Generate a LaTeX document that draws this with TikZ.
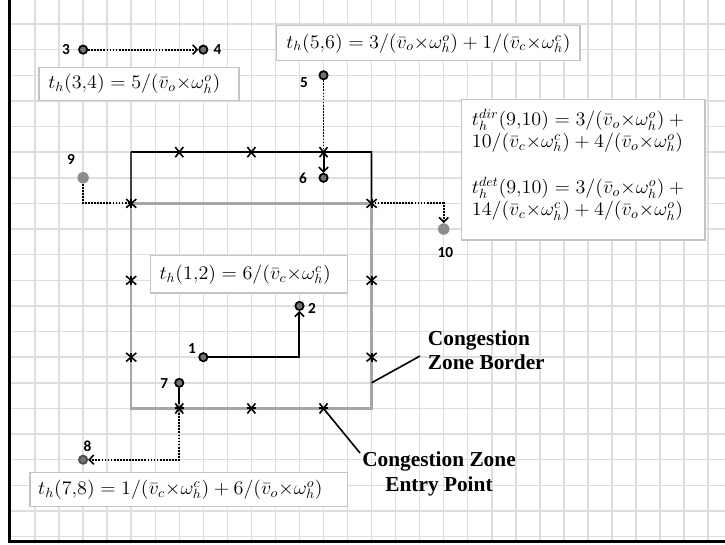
\documentclass[tikz,border=0pt]{standalone}
\usepackage{fontspec}
\usetikzlibrary{arrows.meta}
\newfontfamily\lblfont{Carlito}
\newfontfamily\serifb{Liberation Serif}
\definecolor{gridc}{HTML}{DEDEDE}
\definecolor{zonec}{HTML}{A6A6A6}
\definecolor{boxc}{HTML}{C4C4C4}
\definecolor{ndc}{HTML}{727272}
\definecolor{ndl}{HTML}{8C8C8C}
\newcommand{\fm}[1]{\scalebox{1.05}[1]{$#1$}}
\begin{document}
\begin{tikzpicture}[x={(0.75pt,0pt)},y={(0pt,-0.75pt)},
  gridl/.style={draw=gridc, line width=1.1pt},
  zoneb/.style={draw=zonec, line width=1.7pt},
  detour/.style={draw=black, line width=1.3pt},
  dotl/.style={draw=black, line width=1.4pt, dash pattern=on 1.3pt off 1.0pt},
  solidl/.style={draw=black, line width=1.5pt},
  arr/.style={-{Straight Barb[length=3.4pt,width=7pt,line width=1.2pt]}},
  nd/.style={circle, fill=ndc, draw=black, line width=1.3pt, inner sep=0pt, minimum size=6.2pt},
  ndlight/.style={circle, fill=ndl, inner sep=0pt, minimum size=8.6pt},
  lbl/.style={font=\lblfont\bfseries\fontsize{11.5}{13}\selectfont, inner sep=0pt},
  fbox/.style={draw=boxc, line width=1.1pt, fill=white, inner sep=0pt, anchor=north west},
  ftext/.style={font=\fontsize{14}{17}\selectfont, inner sep=0pt, anchor=west},
  entm/.style={draw=black, line width=1.2pt},
  leader/.style={draw=black, line width=1.2pt},
  cz/.style={font=\serifb\bfseries\fontsize{16}{18.5}\selectfont, inner sep=0pt}]
\useasboundingbox (0,0) rectangle (725,545);
\fill[white] (0,0) rectangle (725,545);
% grid
\foreach \i in {1,...,29} \draw[gridl] ({11+24.04*\i},0) -- ({11+24.04*\i},540);
\foreach \j in {0,...,20} \draw[gridl] (11,{24+25.63*\j}) -- (725,{24+25.63*\j});
% frame
\draw[line width=2.4pt] (9.5,0) -- (9.5,541.5) -- (725,541.5);

\begin{scope}[shift={(11,24)},x={(18.03pt,0pt)},y={(0pt,-19.2225pt)}]
  % entry points
  \coordinate (eT1) at (7,5);  \coordinate (eT2) at (10,5);  \coordinate (eT3) at (13,5);
  \coordinate (eB1) at (7,15); \coordinate (eB2) at (10,15); \coordinate (eB3) at (13,15);
  \coordinate (eL1) at (5,7);  \coordinate (eL2) at (5,10);  \coordinate (eL3) at (5,13);
  \coordinate (eR1) at (15,7); \coordinate (eR2) at (15,10); \coordinate (eR3) at (15,13);
  \coordinate (zb) at (15,14);
  % zone
  \draw[zoneb] (5,5) rectangle (15,15);
  \draw[zoneb] (eL1) -- (eR1);
  \draw[detour, draw=black!75] (eL1) -- (5,5);
  \draw[detour] (5,5) -- (15,5) -- (eR1);
  % nodes
  \node[nd] (n3) at (3,1) {};
  \node[nd] (n4) at (8,1) {};
  \node[nd] (n5) at (13,2) {};
  \node[nd] (n6) at (13,6) {};
  \node[ndlight] (n9) at (3,6) {};
  \node[ndlight] (n10) at (18,8) {};
  \node[nd] (n1) at (8,13) {};
  \node[nd] (n2) at (12,11) {};
  \node[nd] (n7) at (7,14) {};
  \node[nd, draw=black!70] (n8) at (3,17) {};
  \node[ndlight, minimum size=6.5pt] (e7) at (eB1) {};
\end{scope}

% entry markers
\foreach \c in {eT1,eT2,eT3,eB1,eB2,eB3}{
  \draw[entm] (\c) ++(-3pt,3.8pt) -- ++(6pt,-7.6pt) ++(-6pt,0pt) -- ++(6pt,7.6pt);
  \draw[entm, line width=1.5pt] (\c) ++(-3.4pt,0pt) -- ++(6.8pt,0pt);
}
\foreach \c in {eL1,eL2,eL3,eR1,eR2,eR3}{
  \draw[entm] (\c) ++(-3.8pt,3.2pt) -- ++(7.6pt,-6.4pt) ++(-7.6pt,0pt) -- ++(7.6pt,6.4pt);
  \draw[entm, line width=1.5pt] (\c) ++(0pt,-3.4pt) -- ++(0pt,6.8pt);
}

% connectors
\draw[dotl, arr] (n3) -- (n4);
\draw[dotl] (n5) -- (eT3);
\draw[solidl, arr] (eT3) -- (n6);
\draw[dotl] (n9) |- (eL1);
\draw[dotl, arr] (eR1) -| (n10);
\draw[solidl, arr] (n1) -| (n2);
\draw[solidl] (n7) -- (e7);
\draw[dotl, arr] (e7) |- (n8);

% labels
\node[lbl] (l3) at (66,49.5) {3};
\node[lbl] (l4) at (217.5,50) {4};
\node[lbl] (l5) at (304,82.3) {5};
\node[lbl] (l6) at (303,178.7) {6};
\node[lbl] (l9) at (71,159) {9};
\node[lbl] (l10) at (445.3,252.8) {10};
\node[lbl] (l1) at (192,349) {1};
\node[lbl] (l2) at (312,308.3) {2};
\node[lbl] (l7) at (164.2,383.8) {7};
\node[lbl] (l8) at (87.5,445.8) {8};

% formula boxes
\node[fbox, minimum width=150pt, minimum height=25pt] (b34) at (38.3,66.7) {};
\node[ftext] (t34) at ([xshift=7.3pt]b34.west) {\fm{t_h(3{,}4) = 5/(\bar{v}_o{\times}\omega_h^o)}};

\node[fbox, minimum width=227.5pt, minimum height=26.25pt] (b56) at (276,25) {};
\node[ftext] (t56) at ([xshift=7.5pt]b56.west) {\fm{t_h(5{,}6) = 3/(\bar{v}_o{\times}\omega_h^o) + 1/(\bar{v}_c{\times}\omega_h^c)}};

\node[fbox, minimum width=147.5pt, minimum height=28pt] (b12) at (150,255) {};
\node[ftext] (t12) at ([xshift=7pt]b12.west) {\fm{t_h(1{,}2) = 6/(\bar{v}_c{\times}\omega_h^c)}};

\node[fbox, minimum width=238pt, minimum height=25.5pt] (b78) at (29.3,471.7) {};
\node[ftext] (t78) at ([xshift=6.5pt]b78.west) {\fm{t_h(7{,}8) = 1/(\bar{v}_c{\times}\omega_h^c) + 6/(\bar{v}_o{\times}\omega_h^o)}};

\node[fbox, minimum width=182.5pt, minimum height=105.2pt] (b910) at (461,99) {};
\node[ftext, anchor=north west, align=left, font=\fontsize{14}{16.3}\selectfont] (t910) at ([xshift=8pt,yshift=-7.5pt]b910.north west)
  {\fm{t_h^{dir}(9{,}10) = 3/(\bar{v}_o{\times}\omega_h^o) + {}}\\
   \fm{10/(\bar{v}_c{\times}\omega_h^c) + 4/(\bar{v}_o{\times}\omega_h^o)}\\[18.5pt]
   \fm{t_h^{det}(9{,}10) = 3/(\bar{v}_o{\times}\omega_h^o) + {}}\\
   \fm{14/(\bar{v}_c{\times}\omega_h^c) + 4/(\bar{v}_o{\times}\omega_h^o)}};

% congestion zone labels
\node[cz, align=left, anchor=west] (czb) at (427.7,350.3) {Congestion\\Zone Border};
\node[cz, align=center] (cze) at (439,473.9) {Congestion Zone\\Entry Point};
\coordinate (czbend) at (420,356);
\coordinate (czeend) at (360,453);
\draw[leader] (zb) -- (czbend);
\draw[leader] (eB3) -- (czeend);
\end{tikzpicture}
\end{document}
